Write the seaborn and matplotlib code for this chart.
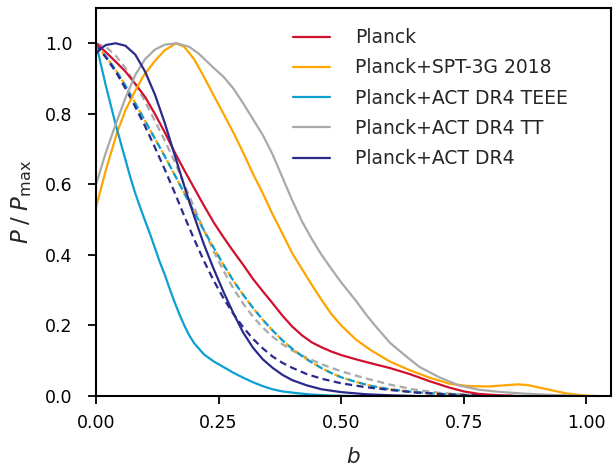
import matplotlib
matplotlib.use("Agg")
import matplotlib.pyplot as plt
import seaborn as sns

# ---- data ----
b_planck = [0, 0.02, 0.04, 0.06, 0.08, 0.10, 0.12, 0.14, 0.16, 0.18, 0.20, 0.22, 0.24, 0.26, 0.28, 0.30, 0.32, 0.34, 0.36, 0.38, 0.40, 0.42, 0.44, 0.46, 0.48, 0.50, 0.53, 0.56, 0.60, 0.64, 0.68, 0.72, 0.75, 0.78, 0.82, 0.86]
p_planck = [1.0, 0.975, 0.948, 0.92, 0.885, 0.848, 0.80, 0.748, 0.692, 0.64, 0.59, 0.54, 0.492, 0.45, 0.41, 0.372, 0.332, 0.297, 0.263, 0.228, 0.197, 0.172, 0.152, 0.138, 0.126, 0.116, 0.104, 0.093, 0.079, 0.062, 0.042, 0.024, 0.013, 0.006, 0.002, 0.0]

b_spt = [0, 0.02, 0.043, 0.06, 0.08, 0.096, 0.12, 0.14, 0.163, 0.18, 0.20, 0.22, 0.24, 0.26, 0.28, 0.30, 0.32, 0.34, 0.36, 0.382, 0.40, 0.42, 0.44, 0.46, 0.48, 0.50, 0.53, 0.56, 0.60, 0.64, 0.68, 0.72, 0.76, 0.80, 0.83, 0.86, 0.88, 0.90, 0.93, 0.96, 1.0, 1.02]
p_spt = [0.535, 0.64, 0.747, 0.81, 0.865, 0.906, 0.95, 0.98, 1.0, 0.99, 0.955, 0.905, 0.852, 0.80, 0.747, 0.69, 0.63, 0.575, 0.515, 0.455, 0.405, 0.36, 0.315, 0.272, 0.232, 0.20, 0.16, 0.13, 0.097, 0.073, 0.052, 0.035, 0.028, 0.027, 0.03, 0.033, 0.031, 0.025, 0.016, 0.007, 0.001, 0.0]

b_teee = [0, 0.01, 0.02, 0.03, 0.04, 0.05, 0.06, 0.07, 0.08, 0.09, 0.10, 0.11, 0.12, 0.13, 0.14, 0.15, 0.16, 0.17, 0.18, 0.19, 0.20, 0.22, 0.24, 0.26, 0.28, 0.30, 0.32, 0.34, 0.36, 0.38, 0.41, 0.44, 0.48, 0.52]
p_teee = [1.0, 0.94, 0.88, 0.825, 0.77, 0.72, 0.67, 0.62, 0.575, 0.535, 0.497, 0.46, 0.42, 0.38, 0.345, 0.305, 0.267, 0.232, 0.20, 0.172, 0.15, 0.118, 0.098, 0.082, 0.066, 0.052, 0.039, 0.028, 0.019, 0.013, 0.008, 0.004, 0.001, 0.0]

b_tt = [0, 0.02, 0.04, 0.06, 0.08, 0.10, 0.12, 0.14, 0.165, 0.19, 0.21, 0.24, 0.26, 0.28, 0.30, 0.32, 0.34, 0.36, 0.38, 0.40, 0.42, 0.44, 0.46, 0.48, 0.50, 0.53, 0.55, 0.57, 0.60, 0.63, 0.66, 0.70, 0.74, 0.78, 0.82, 0.87, 0.93, 1.0]
p_tt = [0.6, 0.69, 0.77, 0.845, 0.91, 0.955, 0.982, 0.996, 1.0, 0.99, 0.97, 0.93, 0.905, 0.872, 0.83, 0.785, 0.74, 0.685, 0.62, 0.555, 0.495, 0.445, 0.40, 0.36, 0.322, 0.27, 0.232, 0.198, 0.15, 0.115, 0.082, 0.053, 0.03, 0.018, 0.012, 0.007, 0.003, 0.0]

b_dr4 = [0, 0.01, 0.02, 0.04, 0.06, 0.08, 0.10, 0.12, 0.14, 0.16, 0.18, 0.20, 0.22, 0.24, 0.26, 0.28, 0.30, 0.32, 0.34, 0.36, 0.38, 0.40, 0.43, 0.46, 0.50, 0.55, 0.60, 0.65]
p_dr4 = [0.97, 0.985, 0.995, 1.0, 0.993, 0.968, 0.92, 0.855, 0.775, 0.685, 0.595, 0.51, 0.43, 0.36, 0.295, 0.235, 0.18, 0.137, 0.104, 0.08, 0.06, 0.045, 0.03, 0.019, 0.011, 0.005, 0.002, 0.0]

# dashed companions
b_dr4_d = [0, 0.02, 0.04, 0.06, 0.08, 0.10, 0.12, 0.14, 0.16, 0.18, 0.20, 0.22, 0.24, 0.26, 0.28, 0.30, 0.32, 0.34, 0.36, 0.38, 0.40, 0.43, 0.46, 0.50, 0.55, 0.60, 0.65, 0.70, 0.75, 0.80, 0.85]
p_dr4_d = [0.995, 0.96, 0.92, 0.872, 0.82, 0.765, 0.705, 0.643, 0.578, 0.51, 0.445, 0.383, 0.327, 0.277, 0.233, 0.195, 0.162, 0.135, 0.112, 0.094, 0.08, 0.062, 0.049, 0.036, 0.025, 0.017, 0.01, 0.006, 0.003, 0.001, 0.0]

b_oc_d = [0, 0.02, 0.04, 0.06, 0.08, 0.10, 0.12, 0.14, 0.16, 0.18, 0.20, 0.22, 0.24, 0.26, 0.28, 0.30, 0.32, 0.34, 0.36, 0.38, 0.40, 0.42, 0.44, 0.46, 0.48, 0.50, 0.53, 0.56, 0.60, 0.65, 0.70, 0.75, 0.80, 0.85]
p_oc_d = [0.995, 0.963, 0.925, 0.88, 0.83, 0.78, 0.73, 0.68, 0.628, 0.575, 0.522, 0.47, 0.42, 0.372, 0.327, 0.287, 0.25, 0.216, 0.186, 0.158, 0.134, 0.113, 0.095, 0.079, 0.065, 0.053, 0.04, 0.029, 0.019, 0.011, 0.006, 0.003, 0.001, 0.0]

b_tt_d = [0, 0.02, 0.04, 0.06, 0.08, 0.10, 0.12, 0.14, 0.16, 0.18, 0.20, 0.22, 0.24, 0.26, 0.28, 0.30, 0.32, 0.34, 0.36, 0.38, 0.40, 0.43, 0.46, 0.50, 0.55, 0.60, 0.65, 0.70, 0.75, 0.80, 0.85]
p_tt_d = [1.0, 0.99, 0.965, 0.93, 0.885, 0.835, 0.78, 0.725, 0.665, 0.60, 0.535, 0.47, 0.41, 0.355, 0.305, 0.262, 0.225, 0.194, 0.168, 0.147, 0.129, 0.108, 0.09, 0.07, 0.05, 0.032, 0.018, 0.009, 0.004, 0.001, 0.0]

labels = ["Planck", "Planck+SPT-3G 2018", "Planck+ACT DR4 TEEE", "Planck+ACT DR4 TT", "Planck+ACT DR4"]
colors = ["#D0102E", "#FFA500", "#0AA0D2", "#A9A9A9", "#2A2A8A"]
xticks = [0.0, 0.25, 0.5, 0.75, 1.0]
yticks = [0.0, 0.2, 0.4, 0.6, 0.8, 1.0]

sns.set_style("ticks")
plt.rcParams["font.family"] = ["DejaVu Sans"]
plt.rcParams["mathtext.fontset"] = "dejavusans"

fig = plt.figure(figsize=(6.13, 4.68), dpi=100)
ax = fig.add_axes([96 / 613, 1 - 396 / 468, (611 - 96) / 613, (396 - 8) / 468])

lw = 1.6
dash = (3.2, 2.0)

# dashed curves
sns.lineplot(x=b_tt_d, y=p_tt_d, ax=ax, color=colors[3], lw=lw, linestyle=(0, dash), sort=False, estimator=None)
sns.lineplot(x=b_oc_d, y=p_oc_d, ax=ax, color=colors[1], lw=lw, linestyle=(1.3, dash), sort=False, estimator=None)
sns.lineplot(x=b_oc_d, y=p_oc_d, ax=ax, color=colors[2], lw=lw, linestyle=(0, dash), sort=False, estimator=None)
sns.lineplot(x=b_dr4_d, y=p_dr4_d, ax=ax, color=colors[4], lw=lw, linestyle=(0, dash), sort=False, estimator=None)

# solid curves
series = [(b_planck, p_planck), (b_spt, p_spt), (b_teee, p_teee), (b_tt, p_tt), (b_dr4, p_dr4)]
for (bx, py), lab, col in zip(series, labels, colors):
    sns.lineplot(x=bx, y=py, ax=ax, color=col, lw=lw, label=lab, sort=False, estimator=None)

ax.set_xlim(0, 1.05)
ax.set_ylim(0, 1.1)
ax.set_xticks(xticks)
ax.set_xticklabels([f"{v:.2f}" for v in xticks])
ax.set_yticks(yticks)
ax.set_yticklabels([f"{v:.1f}" for v in yticks])
ax.tick_params(axis="both", labelsize=12.5, length=6, width=1.3, direction="out", colors="black")
ax.tick_params(axis="y", pad=11)
ax.tick_params(axis="x", pad=7)
for s in ax.spines.values():
    s.set_linewidth(1.5)
    s.set_color("black")

ax.set_xlabel("$b$", fontsize=15.5, labelpad=11)
ax.set_ylabel(r"$P\;/\;P_{\rm max}$", fontsize=16.5, labelpad=8)

leg = ax.legend(loc="upper left", bbox_to_anchor=(0.36, 0.977), frameon=False, fontsize=13.5,
                handlelength=2.0, handletextpad=1.33, labelspacing=0.6, borderaxespad=0.2)

fig.savefig("out.png", dpi=100)
